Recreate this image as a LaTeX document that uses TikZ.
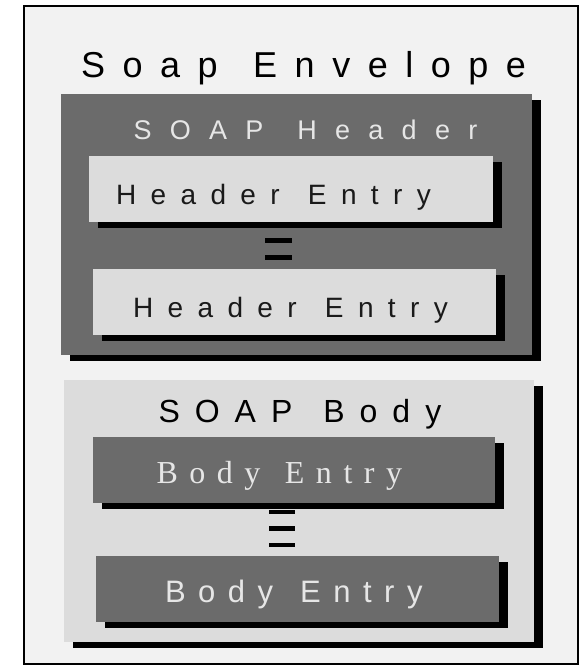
\documentclass[tikz,border=0pt]{standalone}
\usepackage{fontspec}
\setmainfont{Liberation Sans}
\newfontfamily\seriffam{Liberation Serif}
\usetikzlibrary{shadows}
\definecolor{envbg}{HTML}{F2F2F2}
\definecolor{darkbox}{HTML}{6B6B6B}
\definecolor{lightbox}{HTML}{DCDCDC}
\definecolor{lighttext}{HTML}{E6E6E6}
\definecolor{darktext}{HTML}{1A1A1A}
\begin{document}
\begin{tikzpicture}[x=1pt,y=-1pt,
  box/.style={draw=none, inner sep=0pt, outer sep=0pt, anchor=north west},
  shad/.style={drop shadow={shadow xshift=9pt, shadow yshift=-5.5pt, fill=black, opacity=1}},
  lbl/.style={inner sep=0pt, outer sep=0pt, anchor=base west},
  bar/.style={fill=black}]
\useasboundingbox[fill=white] (0,0) rectangle (583,667);
% envelope
\node[draw=black, line width=2.5pt, fill=envbg, inner sep=0pt,
      minimum width=554pt, minimum height=658pt] (env) at (301,335) {};
\node[lbl] (envt) at (81,77)
  {\fontsize{36}{40}\selectfont\addfontfeature{LetterSpace=48.7}Soap\kern8pt\ Envelope};
% header
\node[box, shad, fill=darkbox, minimum width=471pt, minimum height=261pt] (header) at (61,94) {};
\node[lbl, text=lighttext] (headert) at (133.5,139.5)
  {\fontsize{27}{30}\selectfont\addfontfeature{LetterSpace=67.8}SOAP\kern8pt\ Header};
\node[box, shad, fill=lightbox, minimum width=404pt, minimum height=66pt] (he1) at (89,156) {};
\node[lbl, text=darktext] (he1t) at (116,204)
  {\fontsize{28}{32}\selectfont\addfontfeature{LetterSpace=51.4}Header\kern6pt\ Entry};
\fill[bar] (265,238) rectangle (292,242.5);
\fill[bar] (265,255) rectangle (292,259.5);
\node[box, shad, fill=lightbox, minimum width=403pt, minimum height=66pt] (he2) at (93,269) {};
\node[lbl, text=darktext] (he2t) at (133,317)
  {\fontsize{28}{32}\selectfont\addfontfeature{LetterSpace=51.4}Header\kern6pt\ Entry};
% body
\node[box, shad, fill=lightbox, minimum width=470pt, minimum height=262pt] (body) at (64,380) {};
\node[lbl, text=black] (bodyt) at (158.5,422)
  {\fontsize{32}{36}\selectfont\addfontfeature{LetterSpace=46.9}SOAP\kern7pt\ Body};
\node[box, shad, fill=darkbox, minimum width=402pt, minimum height=66pt] (be1) at (93,437) {};
\node[lbl, text=lighttext] (be1t) at (156.5,483)
  {\seriffam\fontsize{32}{36}\selectfont\addfontfeature{LetterSpace=36}Body\kern5pt\ Entry};
\fill[bar] (269,509.5) rectangle (295,514);
\fill[bar] (269,526) rectangle (295,530.5);
\fill[bar] (269,542.5) rectangle (295,547);
\node[box, shad, fill=darkbox, minimum width=403pt, minimum height=66pt] (be2) at (96,556) {};
\node[lbl, text=lighttext] (be2t) at (165,602)
  {\fontsize{31}{34}\selectfont\addfontfeature{LetterSpace=40.3}Body\kern6pt\ Entry};
\end{tikzpicture}
\end{document}
